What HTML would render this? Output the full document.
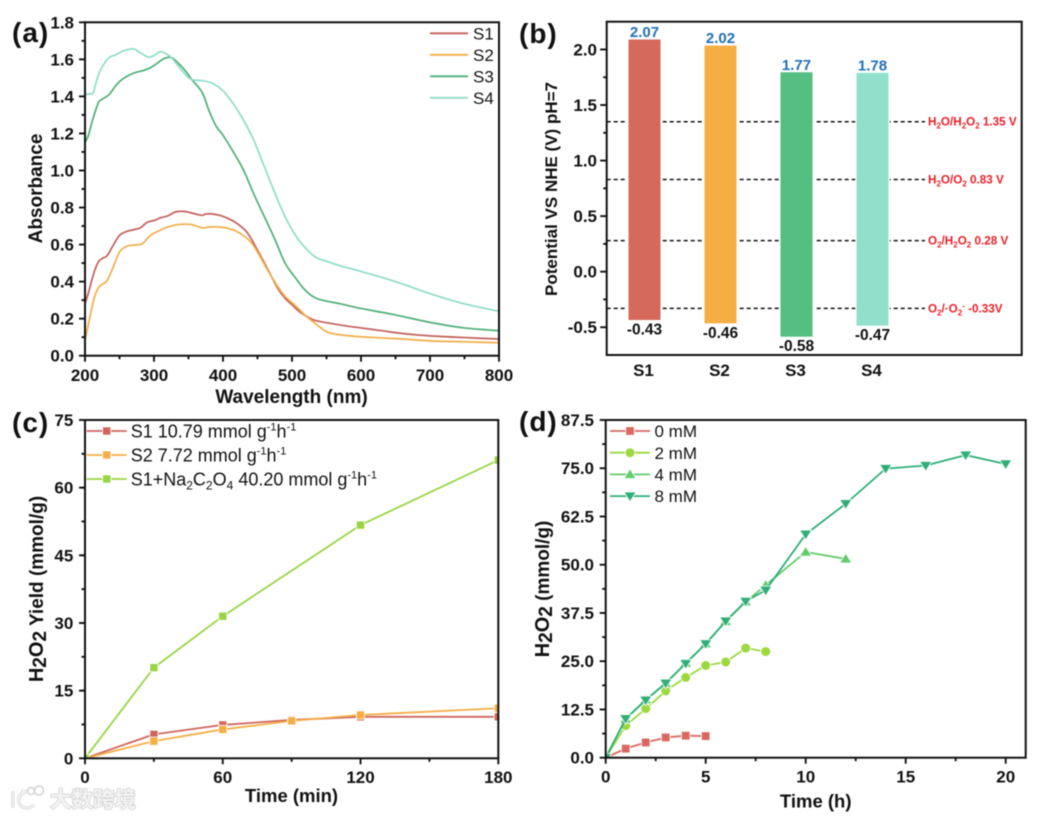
<!DOCTYPE html>
<html lang="en">
<head>
<meta charset="utf-8">
<title>H2O2 photocatalysis figure</title>
<style>
html,body{margin:0;padding:0;background:#fff;width:1038px;height:818px;overflow:hidden}
svg{display:block;filter:blur(0.45px)}
text{font-family:"Liberation Sans","Noto Sans CJK SC",sans-serif;fill:#111}
.b{font-weight:bold}
</style>
</head>
<body>
<svg id="fig" xmlns="http://www.w3.org/2000/svg" width="1038" height="818" viewBox="0 0 1038 818">
  <rect x="0" y="0" width="1038" height="818" fill="#fff"/>
  <defs>
    <clipPath id="clip-c"><rect x="85" y="420" width="413.3" height="338.3"/></clipPath>
    <clipPath id="clip-d"><rect x="605.7" y="420" width="420" height="337.7"/></clipPath>
  </defs>

  <g id="panel-a"></g>
  <g id="panel-b"></g>
  <g id="panel-c"></g>
  <g id="panel-d"></g>

  <text class="b" x="12" y="42" font-size="28" letter-spacing="1">(a)</text>
  <text class="b" x="519" y="43" font-size="28" letter-spacing="1">(b)</text>
  <text class="b" x="12" y="432" font-size="28" letter-spacing="1">(c)</text>
  <text class="b" x="519" y="431" font-size="28" letter-spacing="1">(d)</text>

  <text class="b" x="291.5" y="403" font-size="19" text-anchor="middle">Wavelength (nm)</text>
  <text class="b" font-size="19" text-anchor="middle" transform="translate(42,188.5) rotate(-90)">Absorbance</text>

  <text class="b" font-size="17" text-anchor="middle" transform="translate(557,189) rotate(-90)">Potential VS NHE (V) pH=7</text>

  <text class="b" x="291.5" y="802" font-size="18.5" text-anchor="middle">Time (min)</text>
  <text class="b" font-size="19" text-anchor="middle" transform="translate(43,589) rotate(-90)"><tspan font-size="20">H</tspan><tspan font-size="19" dy="3">2</tspan><tspan font-size="20" dy="-3">O</tspan><tspan font-size="19" dy="3">2</tspan><tspan dy="-3"> Yield (mmol/g)</tspan></text>

  <text class="b" x="815.7" y="807.5" font-size="18.5" text-anchor="middle">Time (h)</text>
  <text class="b" font-size="19" text-anchor="middle" transform="translate(549,589) rotate(-90)"><tspan font-size="20">H</tspan><tspan font-size="19" dy="3">2</tspan><tspan font-size="20" dy="-3">O</tspan><tspan font-size="19" dy="3">2</tspan><tspan dy="-3"> (mmol/g)</tspan></text>

  <g font-size="17">
    <text x="473" y="39.5">S1</text>
    <text x="473" y="61">S2</text>
    <text x="473" y="82.5">S3</text>
    <text x="473" y="104">S4</text>
  </g>
  <g font-size="18">
    <text x="130.7" y="437.5">S1 10.79 mmol g<tspan font-size="11" dy="-7">-1</tspan><tspan dy="7">h</tspan><tspan font-size="11" dy="-7">-1</tspan></text>
    <text x="130.7" y="461.5">S2 7.72 mmol g<tspan font-size="11" dy="-7">-1</tspan><tspan dy="7">h</tspan><tspan font-size="11" dy="-7">-1</tspan></text>
    <text x="130.7" y="485.5">S1+Na<tspan font-size="12" dy="4">2</tspan><tspan dy="-4">C</tspan><tspan font-size="12" dy="4">2</tspan><tspan dy="-4">O</tspan><tspan font-size="12" dy="4">4</tspan><tspan dy="-4"> 40.20 mmol g</tspan><tspan font-size="11" dy="-7">-1</tspan><tspan dy="7">h</tspan><tspan font-size="11" dy="-7">-1</tspan></text>
  </g>
  <g font-size="17">
    <text x="654.5" y="437">0 mM</text>
    <text x="654.5" y="459">2 mM</text>
    <text x="654.5" y="480.5">4 mM</text>
    <text x="654.5" y="502">8 mM</text>
  </g>

  <g>
    <path d="M13 791 L13 808 M18 799 L24 790 M27 791 C16 794 16 808 27 808 C30 808 32 807 34 805" fill="none" stroke="#d2d2d2" stroke-width="3"/>
    <path d="M13 791 L13 808 M18 799 L24 790 M27 791 C16 794 16 808 27 808 C30 808 32 807 34 805" fill="none" stroke="#f6f6f6" stroke-width="1.5"/>
    <circle cx="31" cy="791" r="3.5" fill="none" stroke="#d2d2d2" stroke-width="1.5"/>
    <circle cx="39" cy="790.5" r="4.5" fill="none" stroke="#d2d2d2" stroke-width="1.5"/>
    <text x="50" y="807" font-size="21.5" font-weight="bold" stroke="#cfcfcf" stroke-width="1.4" paint-order="stroke" style="fill:#f4f4f4">大数跨境</text>
  </g>
</svg>

<script>
// ---- Panel (a) data: absorbance spectra ----
const aS1X = [200,205,210,215,220,225,232,240,250,260,270,280,290,300,310,320,330,340,350,360,370,375,385,395,405,420,435,450,465,480,490,500,510,520,530,540,560,580,600,630,660,700,750,800];
const aS1Y = [.28,.34,.41,.47,.51,.525,.54,.59,.65,.67,.68,.69,.72,.73,.745,.755,.775,.78,.775,.765,.758,.765,.765,.758,.745,.715,.665,.57,.465,.36,.31,.275,.24,.215,.195,.185,.172,.16,.15,.135,.12,.107,.098,.09];
const aS2X = [200,205,210,215,220,225,232,240,250,260,270,280,285,295,305,320,335,345,355,365,372,380,395,410,425,440,450,465,480,490,505,520,535,550,565,590,620,660,700,750,800];
const aS2Y = [.08,.17,.26,.33,.37,.385,.405,.47,.56,.59,.597,.6,.61,.65,.67,.695,.708,.71,.708,.695,.69,.695,.695,.685,.66,.615,.56,.46,.37,.32,.27,.215,.17,.13,.115,.105,.098,.09,.08,.075,.07];
const aS3X = [200,205,210,215,220,225,235,245,255,270,285,295,305,315,325,335,345,355,370,380,390,400,415,430,445,460,475,490,505,520,535,550,570,600,650,700,750,800];
const aS3Y = [1.15,1.19,1.26,1.32,1.37,1.385,1.41,1.46,1.495,1.525,1.54,1.555,1.58,1.605,1.61,1.58,1.54,1.49,1.42,1.32,1.24,1.19,1.1,1,.87,.75,.63,.5,.42,.35,.31,.295,.28,.255,.22,.18,.15,.135];
const aS4X = [200,203,208,212,218,225,235,245,255,265,272,278,285,292,300,308,315,325,335,345,355,370,385,400,415,430,445,460,475,490,505,520,535,550,570,600,650,700,750,800];
const aS4Y = [1.42,1.41,1.415,1.42,1.5,1.56,1.61,1.625,1.645,1.655,1.655,1.64,1.625,1.612,1.62,1.64,1.635,1.61,1.565,1.52,1.49,1.485,1.47,1.43,1.36,1.27,1.16,1.02,.88,.75,.65,.58,.53,.51,.485,.455,.4,.335,.28,.24];
const aXTicks = [200,300,400,500,600,700,800];
const aYTicks = [0,0.2,0.4,0.6,0.8,1.0,1.2,1.4,1.6,1.8];

// ---- Panel (b) data: band edges ----
const bCategories = ['S1','S2','S3','S4'];
const bBarTop = [2.09,2.035,1.795,1.79];
const bBarBottom = [-0.435,-0.465,-0.585,-0.486];
const bTopLabels = ['2.07','2.02','1.77','1.78'];
const bBottomLabels = ['-0.43','-0.46','-0.58','-0.47'];
const bYTicks = [-0.5,0,0.5,1.0,1.5,2.0];
const bLevels = [1.35,0.83,0.28,-0.33];
const bLevelLabels = [
  ['H','_2','O/H','_2','O','_2',' 1.35 V'],
  ['H','_2','O/O','_2',' 0.83 V'],
  ['O','_2','/H','_2','O','_2',' 0.28 V'],
  ['O','_2','/·O','_2','^-',' -0.33V']
];

// ---- Panel (c) data: H2O2 yield ----
const cS1X = [0,30,60,90,120,180];
const cS1Y = [0,5.3,7.4,8.5,9.2,9.2];
const cS2X = [0,30,60,90,120,180];
const cS2Y = [0,3.8,6.4,8.3,9.6,11.1];
const cS3X = [0,30,60,120,180];
const cS3Y = [0,20.1,31.5,51.7,66.1];
const cXTicks = [0,60,120,180];
const cYTicks = [0,15,30,45,60,75];

// ---- Panel (d) data: concentration series ----
const d0X = [0,1,2,3,4,5];
const d0Y = [0,2.35,3.95,5.25,5.7,5.6];
const d2X = [0,1,2,3,4,5,6,7,8];
const d2Y = [0,8.3,12.7,17.3,20.8,23.9,24.8,28.4,27.5];
const d4X = [0,1,2,3,4,5,6,7,8,10,12];
const d4Y = [0,10,15,19.3,24.5,29.5,35.3,40.4,44.7,53.3,51.5];
const d8X = [0,1,2,3,4,5,6,7,8,10,12,14,16,18,20];
const d8Y = [0,10.1,14.9,19.3,24.4,29.5,35.4,40.5,43.4,57.9,65.8,74.9,75.7,78.4,76.1];
const dXTicks = [0,5,10,15,20];
const dYTicks = [0,12.5,25,37.5,50,62.5,75,87.5];

const NS = 'http://www.w3.org/2000/svg';
function make(tag, parent, name, attrs) {
  const el = document.createElementNS(NS, tag);
  
  
  for (const k in attrs) el.setAttribute(k, attrs[k]);
  parent.appendChild(el);
  return el;
}
function linear(d0, d1, r0, r1) {
  return v => r0 + (v - d0) / (d1 - d0) * (r1 - r0);
}
function label(parent, name, x, y, str, anchor, size, bold) {
  const t = make('text', parent, name, {x: x, y: y, 'text-anchor': anchor, 'font-size': size});
  if (bold) t.setAttribute('class', 'b');
  t.textContent = str;
  return t;
}
function frame(parent, box) {
  make('rect', parent, 'plot-frame', {x: box.l, y: box.t, width: box.r - box.l, height: box.b - box.t, fill: 'none', stroke: '#111', 'stroke-width': 2});
}
function tick(parent, name, x1, y1, x2, y2) {
  make('line', parent, name, {x1: x1, y1: y1, x2: x2, y2: y2, stroke: '#111', 'stroke-width': 1.9});
}
function axes(parent, box, xs, ys, xTicks, yTicks, yFmt, xBase, yRight, xMinorStep, yMinorStep, yMinorFrom, yMinorTo, xMinorTo) {
  yTicks.forEach(v => {
    tick(parent, 'y-tick', box.l - 6, ys(v), box.l, ys(v));
    label(parent, 'y-tick-label', yRight, ys(v) + 6, yFmt(v), 'end', 17, true);
  });
  for (let v = yMinorFrom; v <= yMinorTo + 1e-9; v += yMinorStep) {
    tick(parent, 'y-minor-tick', box.l - 3.5, ys(v), box.l, ys(v));
  }
  if (xTicks) {
    xTicks.forEach(v => {
      tick(parent, 'x-tick', xs(v), box.b, xs(v), box.b + 6);
      label(parent, 'x-tick-label', xs(v), xBase, String(v), 'middle', 17, true);
    });
    for (let v = xTicks[0] + xMinorStep; v <= xMinorTo + 1e-9; v += xMinorStep * 2) {
      tick(parent, 'x-minor-tick', xs(v), box.b, xs(v), box.b + 3.5);
    }
  }
}
function series(parent, name, X, Y, xs, ys, color, width) {
  const pts = X.map((x, i) => xs(x).toFixed(2) + ',' + ys(Y[i]).toFixed(2)).join(' ');
  make('polyline', parent, name, {points: pts, fill: 'none', stroke: color, 'stroke-width': width, 'stroke-linejoin': 'round'});
}
function smoothSeries(parent, name, X, Y, xs, ys, color, width) {
  const P = X.map((x, i) => [xs(x), ys(Y[i])]);
  let d = 'M' + P[0][0].toFixed(2) + ' ' + P[0][1].toFixed(2);
  for (let i = 0; i < P.length - 1; i++) {
    const p0 = P[Math.max(0, i - 1)], p1 = P[i], p2 = P[i + 1], p3 = P[Math.min(P.length - 1, i + 2)];
    const c1x = p1[0] + (p2[0] - p0[0]) / 6, c1y = p1[1] + (p2[1] - p0[1]) / 6;
    const c2x = p2[0] - (p3[0] - p1[0]) / 6, c2y = p2[1] - (p3[1] - p1[1]) / 6;
    d += 'C' + c1x.toFixed(2) + ' ' + c1y.toFixed(2) + ' ' + c2x.toFixed(2) + ' ' + c2y.toFixed(2) + ' ' + p2[0].toFixed(2) + ' ' + p2[1].toFixed(2);
  }
  make('path', parent, name, {d: d, fill: 'none', stroke: color, 'stroke-width': width, 'stroke-linejoin': 'round'});
}
function marker(parent, name, kind, cx, cy, color, s) {
  const halo = {stroke: '#fff', 'stroke-width': 1.6, 'paint-order': 'stroke', fill: color};
  if (kind === 'square') {
    make('rect', parent, name, Object.assign({x: cx - s, y: cy - s, width: 2 * s, height: 2 * s}, halo));
  } else if (kind === 'circle') {
    make('circle', parent, name, Object.assign({cx: cx, cy: cy, r: s}, halo));
  } else if (kind === 'up') {
    make('polygon', parent, name, Object.assign({points: [cx, cy - s - 0.6, cx + s + 1, cy + s - 0.6, cx - s - 1, cy + s - 0.6].join(' ')}, halo));
  } else {
    make('polygon', parent, name, Object.assign({points: [cx, cy + s + 0.6, cx + s + 1, cy - s + 0.6, cx - s - 1, cy - s + 0.6].join(' ')}, halo));
  }
}
function markers(parent, name, X, Y, xs, ys, kind, color, s) {
  X.forEach((x, i) => marker(parent, name, kind, xs(x), ys(Y[i]), color, s));
}
function legendSwatch(parent, name, x1, x2, y, color, kind, s) {
  make('line', parent, name + '-line', {x1: x1, y1: y, x2: x2, y2: y, stroke: color, 'stroke-width': 1.8});
  if (kind) marker(parent, name + '-marker', kind, (x1 + x2) / 2, y, color, s);
}

// ---- Panel (a) ----
(function () {
  const g = document.getElementById('panel-a');
  const box = {l: 85, r: 499, t: 22.3, b: 355.7};
  const xs = linear(200, 800, box.l, box.r);
  const ys = linear(0, 1.8, box.b, box.t);
  const c = ['#c2605c', '#f2ad48', '#4fae78', '#8edcc8'];
  smoothSeries(g, 'series-s1', aS1X, aS1Y, xs, ys, c[0], 1.7);
  smoothSeries(g, 'series-s2', aS2X, aS2Y, xs, ys, c[1], 1.7);
  smoothSeries(g, 'series-s3', aS3X, aS3Y, xs, ys, c[2], 1.7);
  smoothSeries(g, 'series-s4', aS4X, aS4Y, xs, ys, c[3], 1.7);
  axes(g, box, xs, ys, aXTicks, aYTicks, v => v.toFixed(1), 381, 74, 50, 0.2, 0.1, 1.7, 750);
  frame(g, box);
  ['s1', 's2', 's3', 's4'].forEach((n, i) => {
    legendSwatch(g, 'legend-swatch-a-' + n, 430, 468, 33.3 + i * 21.5, c[i]);
  });
})();

// ---- Panel (b) ----
(function () {
  const g = document.getElementById('panel-b');
  const box = {l: 606.7, r: 1021.7, t: 21.7, b: 355};
  const ys = linear(-0.75, 2.25, box.b, box.t);
  const xc = i => 644.5 + i * 76;
  const c = ['#d4695c', '#f5ae41', '#54bf80', '#91e0cb'];
  const halfW = 16;
  bLevels.forEach(v => {
    make('line', g, 'reference-level-line', {x1: box.l, y1: ys(v), x2: 925, y2: ys(v), stroke: '#111', 'stroke-width': 1.5, 'stroke-dasharray': '4 3'});
  });
  bCategories.forEach((name, i) => {
    make('rect', g, 'bar-' + name.toLowerCase(), {
      x: xc(i) - halfW, y: ys(bBarTop[i]), width: 2 * halfW,
      height: ys(bBarBottom[i]) - ys(bBarTop[i]),
      fill: c[i], stroke: '#fff', 'stroke-width': 2.5, 'paint-order': 'stroke'
    });
    const top = label(g, 'bar-top-value', xc(i), ys(bBarTop[i]) - 2.5, bTopLabels[i], 'middle', 15, true);
    top.style.fill = '#1f6fb5';
    label(g, 'bar-bottom-value', xc(i), ys(bBarBottom[i]) + 14.5, bBottomLabels[i], 'middle', 15.5, true);
    label(g, 'category-label', xc(i) - 1, 376, name, 'middle', 17, true);
  });
  bYTicks.forEach(v => {
    tick(g, 'y-tick', box.l - 6.5, ys(v), box.l, ys(v));
    label(g, 'y-tick-label', 597, ys(v) + 6, v.toFixed(1), 'end', 17, true);
  });
  for (let v = -0.25; v <= 1.75 + 1e-9; v += 0.5) {
    tick(g, 'y-minor-tick', box.l - 3.5, ys(v), box.l, ys(v));
  }
  frame(g, box);
  bLevels.forEach((v, i) => {
    const t = make('text', g, 'reference-level-label', {x: 928, y: ys(v) + 4, 'font-size': 11.7, 'class': 'b'});
    t.style.fill = '#e8202a';
    let shift = 0;
    bLevelLabels[i].forEach(part => {
      const s = make('tspan', t, 'reference-level-label-part', {});
      const kind = part[0];
      const target = kind === '_' ? 3 : kind === '^' ? -4 : 0;
      s.setAttribute('dy', target - shift);
      shift = target;
      if (kind === '_' || kind === '^') {
        s.setAttribute('font-size', 8);
        s.textContent = part.slice(1);
      } else {
        s.style.whiteSpace = 'pre';
        s.textContent = part;
      }
    });
  });
})();

// ---- Panel (c) ----
(function () {
  const g = document.getElementById('panel-c');
  const box = {l: 85, r: 498.3, t: 420, b: 758.3};
  const xs = linear(0, 180, box.l, box.r);
  const ys = linear(0, 75, box.b, box.t);
  const c = ['#cf655d', '#f5ae45', '#97d544'];
  const plot = make('g', g, 'plot-area', {'clip-path': 'url(#clip-c)'});
  series(plot, 'series-s1', cS1X, cS1Y, xs, ys, c[0], 1.8);
  markers(plot, 'point-s1', cS1X, cS1Y, xs, ys, 'square', c[0], 3.7);
  series(plot, 'series-s2', cS2X, cS2Y, xs, ys, c[1], 1.8);
  markers(plot, 'point-s2', cS2X, cS2Y, xs, ys, 'square', c[1], 3.7);
  series(plot, 'series-s1-oxalate', cS3X, cS3Y, xs, ys, c[2], 1.8);
  markers(plot, 'point-s1-oxalate', cS3X, cS3Y, xs, ys, 'square', c[2], 3.7);
  axes(g, box, xs, ys, cXTicks, cYTicks, v => String(v), 783, 73.3, 30, 7.5, 7.5, 67.5, 150);
  frame(g, box);
  ['s1', 's2', 's1-oxalate'].forEach((n, i) => {
    legendSwatch(g, 'legend-swatch-c-' + n, 86.7, 126.7, 431 + i * 24, c[i], 'square', 3.7);
  });
})();

// ---- Panel (d) ----
(function () {
  const g = document.getElementById('panel-d');
  const box = {l: 605.7, r: 1025.7, t: 420, b: 757.7};
  const xs = linear(0, 21, box.l, box.r);
  const ys = linear(0, 87.5, box.b, box.t);
  const c = ['#d9695f', '#9cd93f', '#62cc6c', '#2fae78'];
  const plot = make('g', g, 'plot-area', {'clip-path': 'url(#clip-d)'});
  series(plot, 'series-0mm', d0X, d0Y, xs, ys, c[0], 1.8);
  markers(plot, 'point-0mm', d0X, d0Y, xs, ys, 'square', c[0], 3.9);
  series(plot, 'series-2mm', d2X, d2Y, xs, ys, c[1], 1.8);
  markers(plot, 'point-2mm', d2X, d2Y, xs, ys, 'circle', c[1], 4.5);
  series(plot, 'series-4mm', d4X, d4Y, xs, ys, c[2], 1.8);
  markers(plot, 'point-4mm', d4X, d4Y, xs, ys, 'up', c[2], 4.3);
  series(plot, 'series-8mm', d8X, d8Y, xs, ys, c[3], 1.8);
  markers(plot, 'point-8mm', d8X, d8Y, xs, ys, 'down', c[3], 4.3);
  axes(g, box, xs, ys, dXTicks, dYTicks, v => v.toFixed(1), 782.5, 594, 2.5, 12.5, 6.25, 81.25, 17.5);
  frame(g, box);
  const kinds = ['square', 'circle', 'up', 'down'];
  const sizes = [3.9, 4.5, 4.3, 4.3];
  ['0mm', '2mm', '4mm', '8mm'].forEach((n, i) => {
    legendSwatch(g, 'legend-swatch-d-' + n, 610, 650, 431 + i * 21.7, c[i], kinds[i], sizes[i]);
  });
})();
</script>
</body>
</html>
